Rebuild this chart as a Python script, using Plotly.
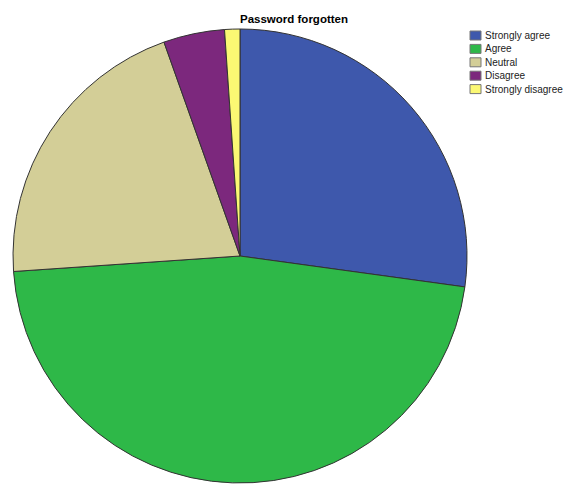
import plotly.graph_objects as go

# Responses to "Password forgotten" (counts)
categories = ["Strongly agree", "Agree", "Neutral", "Disagree", "Strongly disagree"]
counts = [25, 43, 19, 4, 1]
colors = ["#3E58AC", "#2EB848", "#D3CE97", "#7C287D", "#FBF873"]

W, H = 565, 484

fig = go.Figure()
fig.add_trace(go.Pie(
    labels=categories,
    values=counts,
    sort=False,
    direction="clockwise",
    rotation=0,
    marker=dict(colors=colors, line=dict(color="#333333", width=1)),
    textinfo="none",
    showlegend=False,
    domain=dict(x=[13 / W, 467 / W], y=[1 - 483 / H, 1 - 29 / H]),
))

# Title
fig.add_annotation(
    text="<b>Password forgotten</b>", x=294 / W, y=1 - 19 / H,
    xref="paper", yref="paper", xanchor="center", yanchor="middle",
    showarrow=False, font=dict(family="Liberation Sans, Arial", size=11.5, color="#000000"),
)

# Legend: coloured swatches with labels
legend_top = 35.5
legend_step = 13.4
for i, (cat, col) in enumerate(zip(categories, colors)):
    cy = legend_top + i * legend_step
    fig.add_shape(
        type="rect", xref="paper", yref="paper",
        x0=470 / W, x1=481 / W, y0=1 - (cy - 4.5) / H, y1=1 - (cy + 4.5) / H,
        fillcolor=col, line=dict(color="#777777", width=1),
    )
    fig.add_annotation(
        text=cat, x=483 / W, y=1 - cy / H, xref="paper", yref="paper",
        xanchor="left", yanchor="middle", showarrow=False,
        font=dict(family="Liberation Sans, Arial", size=10, color="#222222"),
    )

fig.update_layout(
    width=W, height=H,
    margin=dict(l=0, r=0, t=0, b=0),
    paper_bgcolor="white", plot_bgcolor="white",
)

fig.write_html("out.html")
